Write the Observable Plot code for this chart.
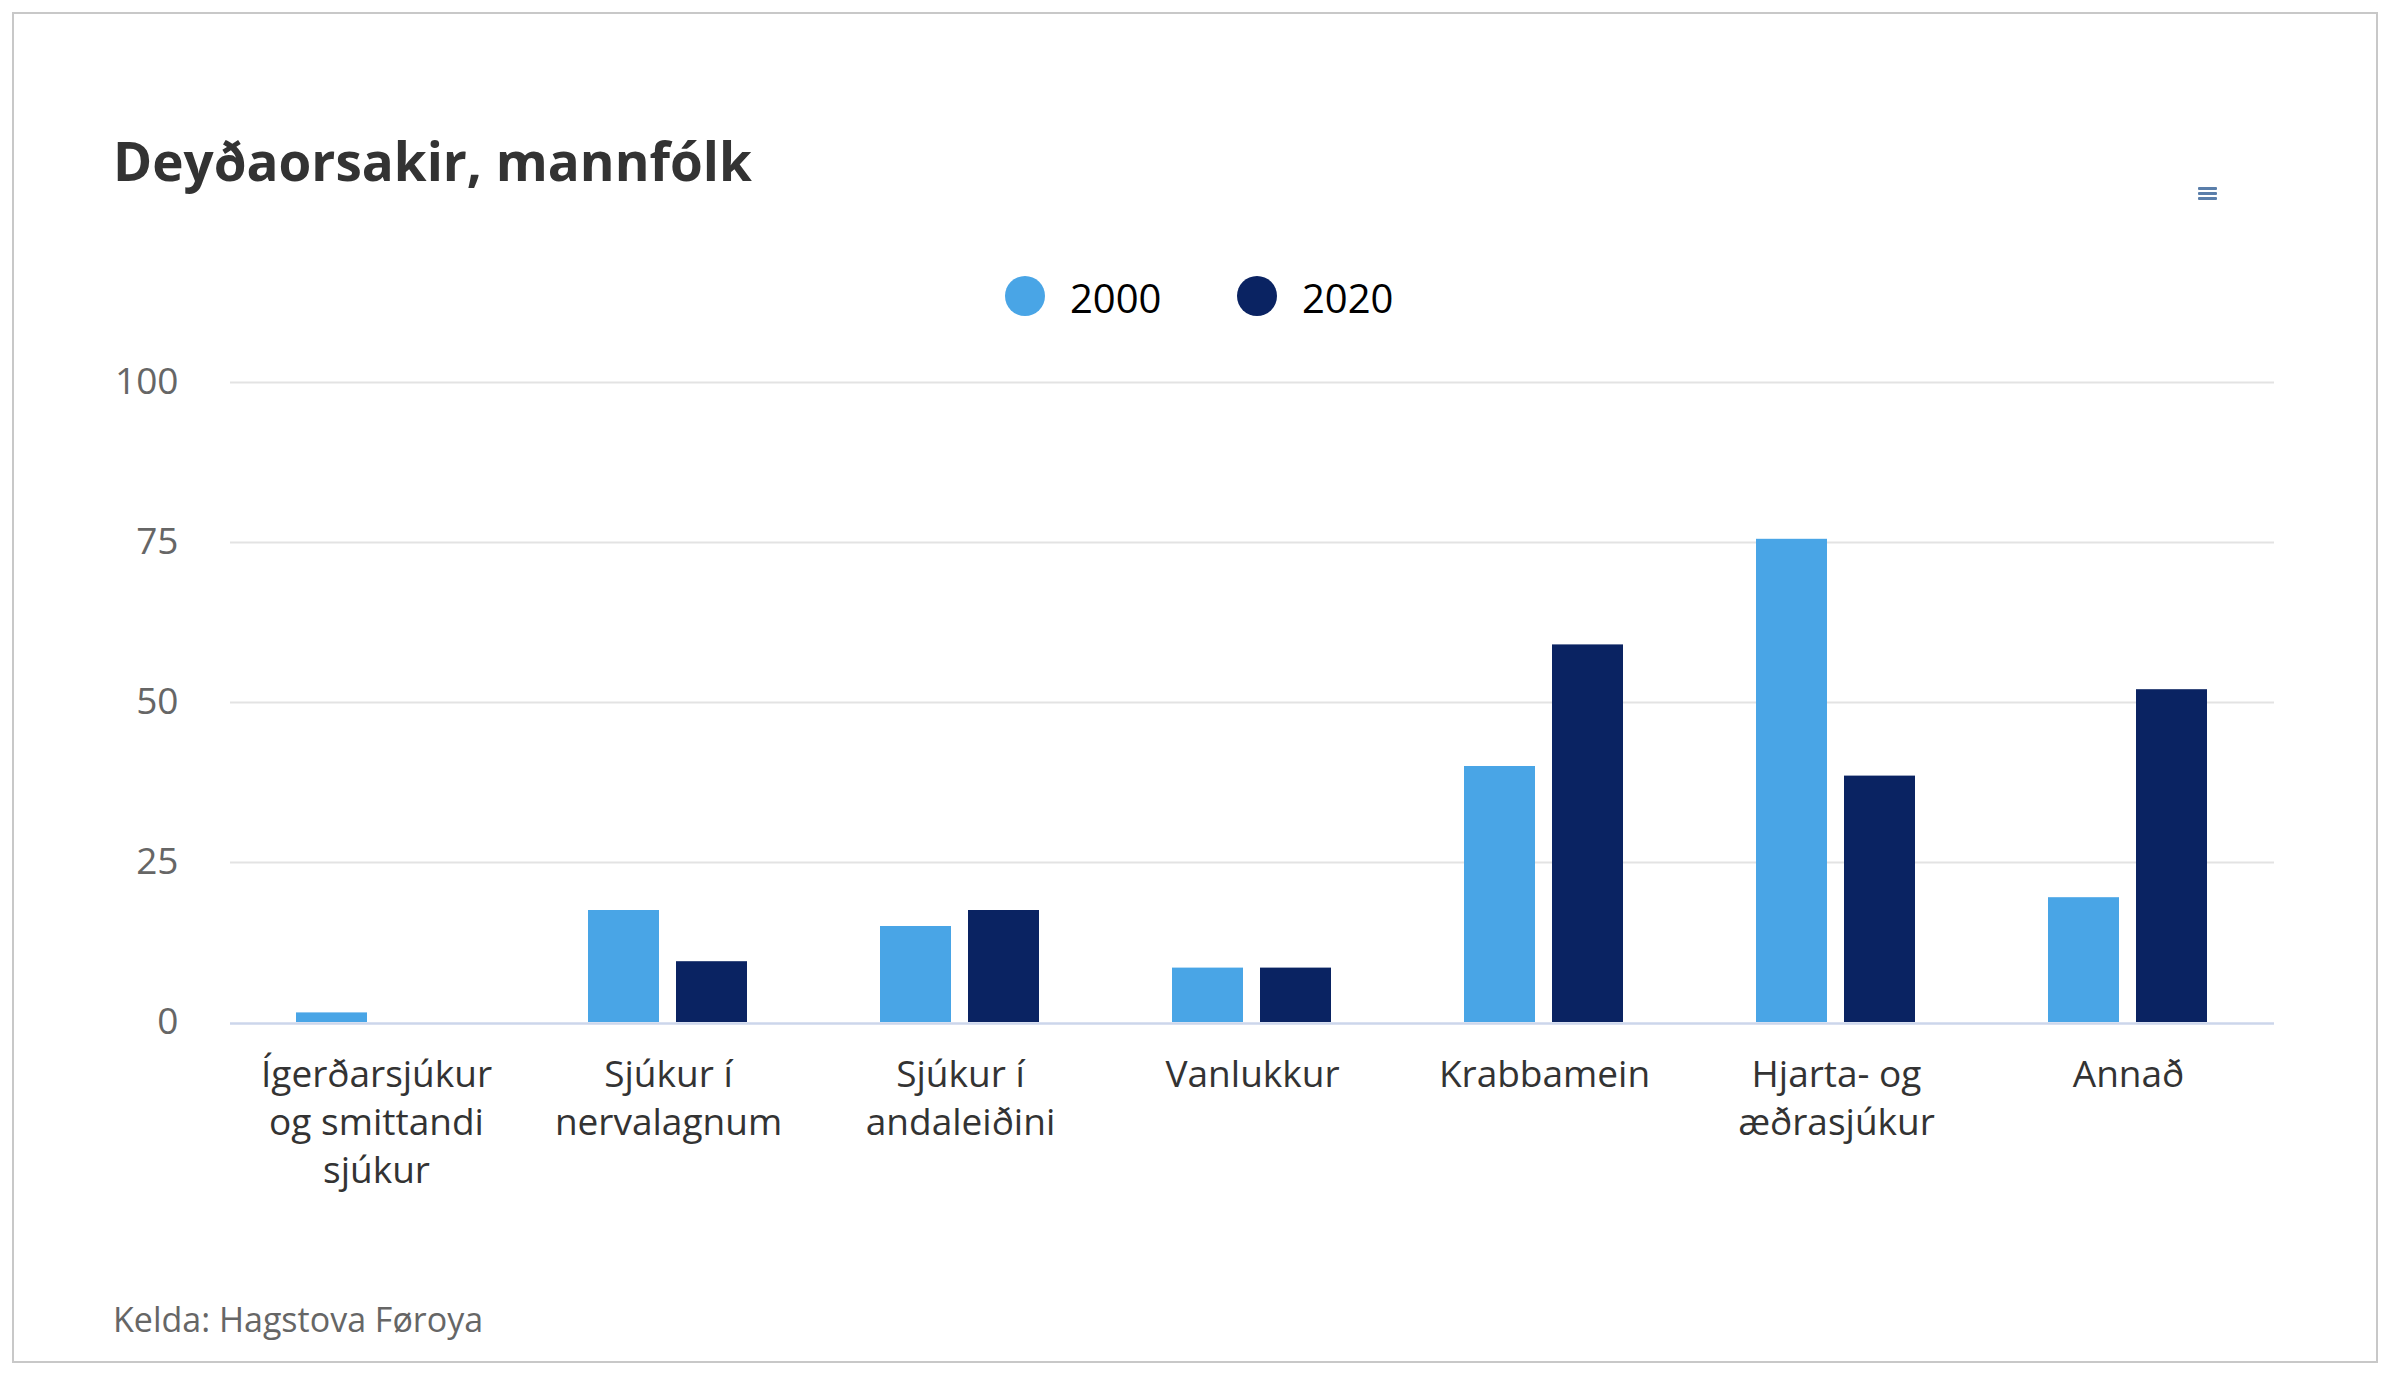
<!DOCTYPE html>
<html>
<head>
<meta charset="utf-8">
<script src="https://cdn.jsdelivr.net/npm/d3@7"></script>
<script src="https://cdn.jsdelivr.net/npm/@observablehq/plot@0.6"></script>
<style>
  html, body { margin: 0; padding: 0; background: #fff; }
  body { width: 2406px; height: 1390px; position: relative; overflow: hidden; font-family: "Open Sans", sans-serif; }
  .frame { position: absolute; left: 12px; top: 12px; width: 2362px; height: 1347px; border: 2px solid #c8c8c8; }
  .title { position: absolute; left: 113px; top: 134px; font-size: 53px; line-height: 53px; font-weight: 700; color: #333; white-space: nowrap; }
  .leg-dot { position: absolute; width: 40px; height: 40px; border-radius: 50%; }
  .leg-txt { position: absolute; font-size: 40px; line-height: 40px; color: #000; white-space: nowrap; }
  .caption { position: absolute; left: 113px; top: 1302px; font-size: 34px; line-height: 34px; color: #666; white-space: nowrap; }
  .menu { position: absolute; left: 2198px; width: 19px; height: 3px; background: #5a7eaa; border-radius: 1px; }
  #chart { position: absolute; left: 0; top: 0; }
</style>
</head>
<body>
<div class="frame"></div>
<div class="title" id="title"></div>
<div id="legend"></div>
<div class="menu" style="top:187px"></div>
<div class="menu" style="top:192px"></div>
<div class="menu" style="top:197px"></div>
<div id="chart"></div>
<div class="caption" id="caption"></div>
<script>
const titleText = "Deyðaorsakir, mannfólk";
const captionText = "Kelda: Hagstova Føroya";
const categories = ["Ígerðarsjúkur og smittandi sjúkur", "Sjúkur í nervalagnum", "Sjúkur í andaleiðini", "Vanlukkur", "Krabbamein", "Hjarta- og æðrasjúkur", "Annað"];
const tickLabels = ["Ígerðarsjúkur\nog smittandi\nsjúkur", "Sjúkur í\nnervalagnum", "Sjúkur í\nandaleiðini", "Vanlukkur", "Krabbamein", "Hjarta- og\næðrasjúkur", "Annað"];
const years = ["2000", "2020"];
const values2000 = [1.5, 17.5, 15, 8.5, 40, 75.5, 19.5];
const values2020 = [0, 9.5, 17.5, 8.5, 59, 38.5, 52];
const yTicks = [0, 25, 50, 75, 100];
const colors = ["#49a5e6", "#0a2362"];

document.getElementById("title").textContent = titleText;
document.getElementById("caption").textContent = captionText;

// legend
const legend = document.getElementById("legend");
const legPos = [{dot: 1005, txt: 1070}, {dot: 1237, txt: 1302}];
years.forEach((y, i) => {
  const d = document.createElement("div");
  d.className = "leg-dot";
  d.style.left = legPos[i].dot + "px";
  d.style.top = "276px";
  d.style.background = colors[i];
  legend.appendChild(d);
  const t = document.createElement("div");
  t.className = "leg-txt";
  t.style.left = legPos[i].txt + "px";
  t.style.top = "278px";
  t.textContent = y;
  legend.appendChild(t);
});

const rows = [];
categories.forEach((c, i) => {
  rows.push({category: c, year: years[0], value: values2000[i]});
  rows.push({category: c, year: years[1], value: values2020[i]});
});

const chart = Plot.plot({
  width: 2406,
  height: 1260,
  marginLeft: 227,
  marginRight: 130,
  marginTop: 382,
  marginBottom: 238,
  style: {fontFamily: "Open Sans", background: "transparent", overflow: "visible"},
  fx: {domain: categories, paddingInner: 0, paddingOuter: 0, label: null},
  x: {domain: years, paddingInner: 0.192, paddingOuter: 0.75, axis: null},
  y: {domain: [0, 100], label: null},
  color: {domain: years, range: colors},
  marks: [
    Plot.ruleY(yTicks.filter(d => d > 0), {stroke: "#e3e3e3", strokeWidth: 2}),
    Plot.axisY({ticks: yTicks, tickSize: 0, tickPadding: 52, fontSize: 37, color: "#666", label: null}),
    Plot.barY(rows, {fx: "category", x: "year", y: "value", fill: "year"}),
    Plot.ruleY([0], {stroke: "#ccd6eb", strokeWidth: 2.5, dy: 1}),
    Plot.axisFx({anchor: "bottom", tickSize: 0, tickPadding: 30, fontSize: 37, color: "#333", lineHeight: 1.3, label: null,
      tickFormat: d => tickLabels[categories.indexOf(d)]})
  ]
});
document.getElementById("chart").appendChild(chart);
</script>
</body>
</html>
